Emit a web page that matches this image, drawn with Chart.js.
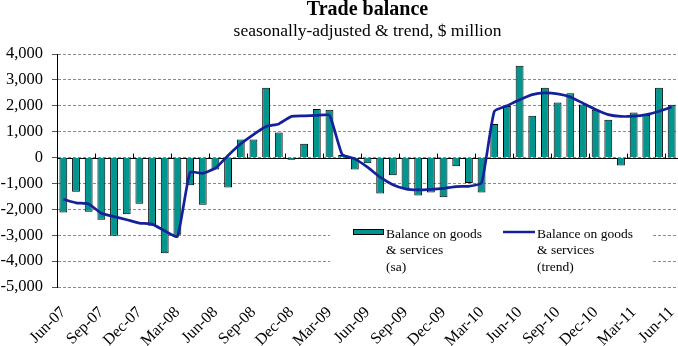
<!DOCTYPE html>
<html>
<head>
<meta charset="utf-8">
<script src="https://cdn.jsdelivr.net/npm/chart.js@4"></script>
<style>
    body { margin: 0; background: #fff; }
</style>
</head>
<body>
<canvas id="tradeChart" width="678" height="346"></canvas>
<script>
// Data
const months = [
    "Jun-07", "Jul-07", "Aug-07", "Sep-07", "Oct-07", "Nov-07", "Dec-07",
    "Jan-08", "Feb-08", "Mar-08", "Apr-08", "May-08", "Jun-08", "Jul-08", "Aug-08", "Sep-08", "Oct-08", "Nov-08", "Dec-08",
    "Jan-09", "Feb-09", "Mar-09", "Apr-09", "May-09", "Jun-09", "Jul-09", "Aug-09", "Sep-09", "Oct-09", "Nov-09", "Dec-09",
    "Jan-10", "Feb-10", "Mar-10", "Apr-10", "May-10", "Jun-10", "Jul-10", "Aug-10", "Sep-10", "Oct-10", "Nov-10", "Dec-10",
    "Jan-11", "Feb-11", "Mar-11", "Apr-11", "May-11", "Jun-11"
];
const balanceSa = [
    -2120, -1320, -2090, -2400, -3020, -2190, -1780,
    -2630, -3700, -2980, -1070, -1820, -460, -1160, 700, 700, 2700, 970, -80,
    530, 1880, 1850, 100, -460, -220, -1390, -680, -1200, -1470, -1350, -1530,
    -340, -980, -1350, 1300, 1990, 3550, 1610, 2700, 2130, 2480, 2050, 1850,
    1460, -310, 1740, 1640, 2700, 2040
];
const balanceTrend = [
    -1610, -1750, -1790, -2150, -2280, -2400, -2530,
    -2570, -2830, -3050, -570, -610, -410, 80, 530, 890, 1200, 1300, 1590,
    1610, 1630, 1630, 120, -50, -370, -760, -1050, -1210, -1250, -1230, -1190,
    -1120, -1110, -980, 1780, 2000, 2230, 2430, 2500, 2460, 2340, 2100, 1860,
    1660, 1590, 1600, 1660, 1790, 1950
];
const legendLabels = [
    ["Balance on goods", "& services", "(sa)"],
    ["Balance on goods", "& services", "(trend)"]
];

const barColor = "#00968f";
const lineColor = "#14219b";
const serif = "'Liberation Serif', 'Times New Roman', serif";

// Zero line, small ticks on it, right border
const framePlugin = {
    id: "frame",
    beforeDatasetsDraw(chart) {
        const ctx = chart.ctx;
        const area = chart.chartArea;
        const x = chart.scales.x;
        const y0 = chart.scales.y.getPixelForValue(0);
        ctx.save();
        ctx.strokeStyle = "#888";
        ctx.lineWidth = 1;
        ctx.beginPath();
        ctx.moveTo(area.right + 0.5, area.top);
        ctx.lineTo(area.right + 0.5, area.bottom);
        ctx.stroke();

        ctx.strokeStyle = "#000";
        ctx.beginPath();
        ctx.moveTo(area.left, Math.round(y0) + 0.5);
        ctx.lineTo(area.right, Math.round(y0) + 0.5);
        let half = (x.getPixelForValue(1) - x.getPixelForValue(0)) / 2;
        for (let i = 3; i < months.length; i += 3) {
            let px = Math.round(x.getPixelForValue(i) - half) + 0.5;
            ctx.moveTo(px, y0 - 4);
            ctx.lineTo(px, y0 + 1);
        }
        ctx.stroke();
        ctx.restore();
    },
    afterDraw(chart) {
        const ctx = chart.ctx;
        ctx.save();
        // white box over the gridlines
        ctx.fillStyle = "#fff";
        ctx.fillRect(330, 214, 322, 68);

        // sa swatch
        ctx.fillStyle = barColor;
        ctx.fillRect(353, 229, 31, 6);
        ctx.strokeStyle = "#000";
        ctx.lineWidth = 1;
        ctx.strokeRect(353.5, 229.5, 30, 5);

        // trend swatch
        ctx.strokeStyle = lineColor;
        ctx.lineWidth = 2.5;
        ctx.beginPath();
        ctx.moveTo(503, 232);
        ctx.lineTo(535, 232);
        ctx.stroke();

        ctx.fillStyle = "#000";
        ctx.font = "13.5px " + serif;
        ctx.textBaseline = "middle";
        ctx.textAlign = "left";
        legendLabels[0].forEach((t, i) => ctx.fillText(t, 386, 234 + i * 16.8));
        legendLabels[1].forEach((t, i) => ctx.fillText(t, 537, 234 + i * 16.8));
        ctx.restore();
    }
};

function createTradeChart(canvasID) {
    const ctx = document.getElementById(canvasID).getContext("2d");

    const myChart = new Chart(ctx, {
        data: {
            labels: months,
            datasets: [{
                type: "line",
                label: "Balance on goods & services (trend)",
                data: balanceTrend,
                borderColor: lineColor,
                borderWidth: 2.7,
                pointRadius: 0,
                tension: 0.15,
                order: 0
            }, {
                type: "bar",
                label: "Balance on goods & services (sa)",
                data: balanceSa,
                backgroundColor: barColor,
                borderColor: "#000",
                borderWidth: 1,
                barPercentage: 0.62,
                categoryPercentage: 1,
                order: 1
            }]
        },
        options: {
            responsive: false,
            animation: false,
            devicePixelRatio: 1,
            layout: { padding: 0 },
            plugins: {
                legend: false,
                tooltip: false,
                title: {
                    display: true,
                    text: "Trade balance",
                    fullSize: false,
                    color: "#000",
                    font: { family: serif, size: 20, weight: "bold", lineHeight: 1 },
                    padding: { top: 0, bottom: 0 }
                },
                subtitle: {
                    display: true,
                    text: "seasonally-adjusted & trend, $ million",
                    fullSize: false,
                    color: "#000",
                    font: { family: serif, size: 17.5 },
                    padding: { top: 1, bottom: 12 }
                }
            },
            scales: {
                x: {
                    type: "category",
                    offset: true,
                    grid: { display: false },
                    border: { display: false },
                    ticks: {
                        autoSkip: false,
                        maxRotation: 45,
                        minRotation: 45,
                        padding: 8,
                        color: "#000",
                        font: { family: serif, size: 16 },
                        callback: (v, i) => i % 3 === 0 ? months[i] : ""
                    },
                    afterFit: (scale) => {
                        scale.height = 59;
                        scale.paddingLeft = 0;
                        scale.paddingRight = 0;
                    }
                },
                y: {
                    min: -5000,
                    max: 4000,
                    grid: {
                        color: "#8a8a8a",
                        tickLength: 5,
                        tickColor: "#555"
                    },
                    border: { color: "#000", dash: [3, 2] },
                    ticks: {
                        stepSize: 1000,
                        padding: 9,
                        color: "#000",
                        font: { family: serif, size: 16.5 },
                        callback: (v) => v.toLocaleString("en-US")
                    },
                    afterFit: (scale) => { scale.width = 57; }
                }
            }
        },
        plugins: [framePlugin]
    });

    return myChart;
}

createTradeChart("tradeChart");
</script>
</body>
</html>
